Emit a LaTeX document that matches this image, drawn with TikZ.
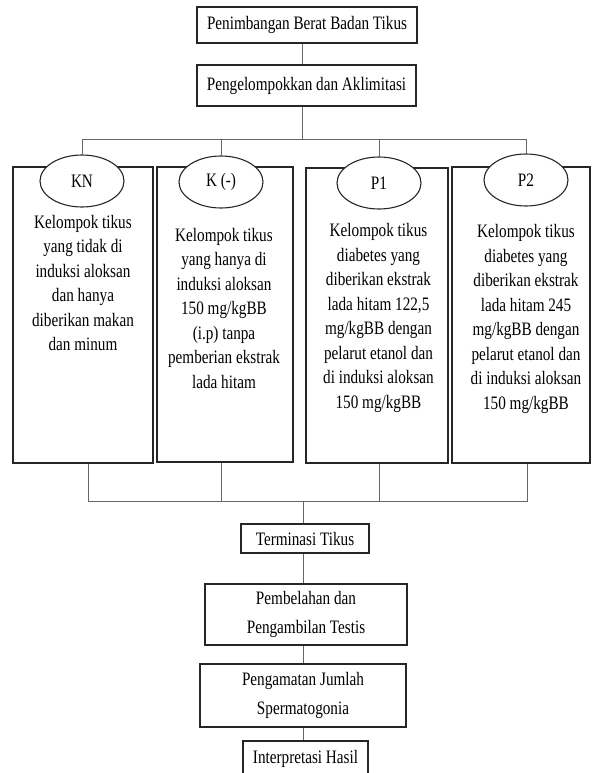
\documentclass[tikz,border=0pt]{standalone}
\usepackage{fontspec}
\setmainfont{Liberation Serif}[FakeStretch=0.8]
\usetikzlibrary{shapes.geometric}
\newcommand\mytxt{\fontsize{19}{24.5}\selectfont}
\newcommand\mytxtwide{\fontsize{19}{29}\selectfont}
\begin{document}
\begin{tikzpicture}[x=1pt,y=-1pt,
  box/.style={draw=black!85, line width=1.2pt, rectangle, inner sep=0pt, align=center, font=\mytxt},
  widebox/.style={box, font=\mytxtwide},
  gbox/.style={draw=black!85, line width=1.2pt, rectangle, inner sep=0pt},
  gtext/.style={align=center, inner sep=0pt, font=\mytxt},
  oval/.style={ellipse, draw=black!85, line width=1.1pt, fill=white, minimum width=84pt, minimum height=52pt, inner sep=0pt, font=\mytxt},
  conn/.style={draw=black!60, line width=0.9pt}]
\useasboundingbox (0,0) rectangle (594,773);
\clip (0,0) rectangle (594,773);

% top boxes
\node[box, minimum width=220pt, minimum height=36pt] (b1) at (307,25) {Penimbangan Berat Badan Tikus};
\node[box, minimum width=219pt, minimum height=41pt] (b2) at (306.5,85.5) {Pengelompokkan dan Aklimitasi};

% group boxes
\node[gbox, minimum width=140pt, minimum height=296pt] (kn) at (83,315) {};
\node[gbox, minimum width=136pt, minimum height=295pt] (km) at (225,314.5) {};
\node[gbox, minimum width=142pt, minimum height=295pt] (p1) at (377,315.5) {};
\node[gbox, minimum width=138pt, minimum height=296pt] (p2) at (521,315) {};

% ovals
\node[oval] (e1) at (82,181) {KN};
\node[oval] (e2) at (221,182) {K (-)};
\node[oval] (e3) at (379,183) {P1};
\node[oval] (e4) at (526,180) {P2};

% group texts
\node[gtext] (t1) at (83,283) {Kelompok tikus\\yang tidak di\\induksi aloksan\\dan hanya\\diberikan makan\\dan minum};
\node[gtext] (t2) at (224,308) {Kelompok tikus\\yang hanya di\\induksi aloksan\\150 mg/kgBB\\(i.p) tanpa\\pemberian ekstrak\\lada hitam};
\node[gtext] (t3) at (378.5,318) {Kelompok tikus\\diabetes yang\\diberikan ekstrak\\lada hitam 122,5\\mg/kgBB dengan\\pelarut etanol dan\\di induksi aloksan\\150 mg/kgBB};
\node[gtext] (t4) at (526,319) {Kelompok tikus\\diabetes yang\\diberikan ekstrak\\lada hitam 245\\mg/kgBB dengan\\pelarut etanol dan\\di induksi aloksan\\150 mg/kgBB};

% lower boxes
\node[box, minimum width=128pt, minimum height=29pt] (term) at (305,538.5) {Terminasi Tikus};
\node[widebox, minimum width=202pt, minimum height=61pt] (pemb) at (306,614.5) {Pembelahan dan\\Pengambilan Testis};
\node[widebox, minimum width=206pt, minimum height=63pt] (peng) at (303,695.5) {Pengamatan Jumlah\\Spermatogonia};
\node[box, minimum width=125pt, minimum height=36pt] (interp) at (305.5,759) {Interpretasi Hasil};

% top connectors
\coordinate (tj) at (302,139);
\draw[conn] (b1.south -| tj) -- (b2.north -| tj);
\draw[conn] (b2.south -| tj) -- (tj);
\draw[conn] (e1.north) -- (e1.north |- tj) -- (e4.north |- tj) -- (e4.north);
\draw[conn] (e2.north) -- (e2.north |- tj);
\draw[conn] (e3.north) -- (e3.north |- tj);

% bottom connectors
\coordinate (bj) at (303,501);
\draw[conn] ([xshift=5pt]kn.south) -- ([xshift=5pt]kn.south |- bj) -- ([xshift=6pt]p2.south |- bj) -- ([xshift=6pt]p2.south);
\draw[conn] ([xshift=-4pt]km.south) -- ([xshift=-4pt]km.south |- bj);
\draw[conn] ([xshift=2pt]p1.south) -- ([xshift=2pt]p1.south |- bj);
\draw[conn] (bj) -- (term.north -| bj);
\draw[conn] (term.south -| bj) -- (pemb.north -| bj);
\draw[conn] (pemb.south -| bj) -- (peng.north -| bj);
\draw[conn] (peng.south -| bj) -- (interp.north -| bj);
\end{tikzpicture}
\end{document}
